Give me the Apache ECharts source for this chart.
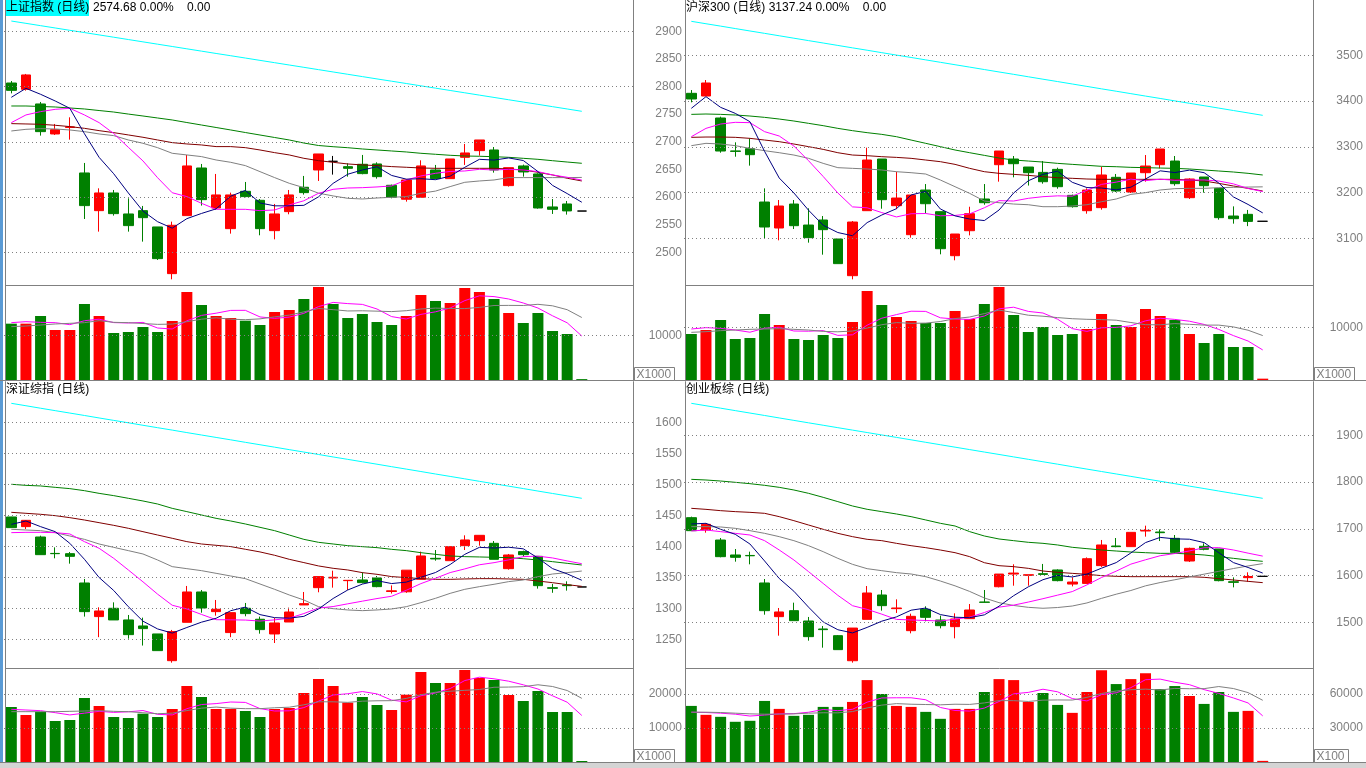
<!DOCTYPE html>
<html><head><meta charset="utf-8">
<script src="https://cdn.jsdelivr.net/npm/echarts@6/dist/echarts.min.js"></script>
<style>html,body{margin:0;padding:0;background:#fff;overflow:hidden}#c{width:1366px;height:768px}</style>
</head><body><div id="c"></div>
<script>
// ---------- DATA ----------
// 43 slots on each time axis, 40 trading days drawn
const days = Array.from({length: 43}, (_, i) => 'D' + (i + 1));

// 上证指数  [open, high, low, close]
const shCandles = [
[2806.4,2810.0,2787.7,2793.1],[2795.0,2822.8,2792.6,2821.0],[2768.5,2772.1,2711.2,2718.4],[2714.2,2732.3,2712.4,2722.0],
[2726.0,2744.3,2703.9,2727.0],[2643.6,2661.7,2560.3,2584.5],[2575.4,2615.8,2537.4,2607.4],[2607.4,2612.8,2566.4,2570.0],
[2569.4,2597.7,2537.4,2548.3],[2575.4,2583.9,2519.3,2562.7],[2545.9,2545.9,2486.1,2488.5],[2461.4,2555.5,2451.1,2548.9],
[2566.4,2676.2,2566.4,2656.3],[2652.6,2659.9,2584.5,2595.3],[2580.2,2641.8,2576.6,2603.8],[2542.8,2608.0,2533.8,2603.8],
[2610.4,2627.3,2599.6,2600.8],[2594.1,2596.5,2530.8,2542.8],[2539.2,2587.5,2523.5,2569.4],[2573.6,2612.8,2568.8,2603.8],
[2617.7,2638.2,2604.4,2608.0],[2649.0,2678.0,2629.1,2678.0],[2664.7,2674.4,2640.6,2664.7],[2655.0,2661.1,2636.9,2652.0],
[2659.3,2676.2,2641.2,2642.4],[2659.9,2662.9,2633.3,2636.9],[2621.3,2622.5,2597.7,2599.6],[2596.0,2632.7,2591.7,2630.9],
[2599.6,2666.5,2599.0,2656.3],[2649.0,2658.1,2632.1,2633.3],[2633.3,2668.9,2632.7,2668.9],[2671.9,2696.1,2658.1,2679.8],
[2684.0,2703.3,2675.0,2703.3],[2685.2,2690.6,2644.2,2649.0],[2620.7,2653.2,2618.9,2653.2],[2656.3,2658.7,2636.9,2645.4],
[2641.8,2643.0,2579.0,2580.2],[2582.1,2596.5,2569.4,2577.8],[2587.5,2592.9,2568.2,2574.9],[2574.68,2574.68,2574.68,2574.68]];
const shMA5 = [2780.5,2796.8,2786,2773.9,2760.6,2714.6,2671.9,2642.2,2607.4,2574.6,2555.4,2543.7,2560.9,2570.3,2578.6,2601.6,2612,2589.3,2584.1,2584.1,2585,2600.4,2624.8,2641.3,2649,2654.8,2639.1,2632.4,2633.2,2631.4,2637.8,2653.8,2668.3,2666.9,2670.8,2666.1,2646.2,2621.1,2606.3,2590.6];
const shMA10 = [2734.7,2748.6,2754.6,2758.8,2760.6,2748.6,2734.7,2715,2690,2665.4,2635,2607.8,2600.8,2588.7,2577.8,2577.8,2577.8,2575.4,2576.6,2585.7,2593.3,2606.8,2614,2616.4,2617,2618.3,2620.1,2630.9,2638.2,2643,2646.3,2647.2,2650.2,2649,2650.2,2649,2646,2640,2635.8,2630.7];
const shMA20 = [2719.6,2722.6,2723.8,2723.2,2721.4,2718.4,2714.2,2711.2,2703.3,2697.3,2689.4,2679.2,2676.2,2673.2,2667.1,2662.9,2656.9,2646,2635.2,2624.9,2617,2607,2602,2597.7,2596.5,2598.3,2599.6,2600.8,2606.8,2610.8,2618.9,2626.7,2629.1,2630.9,2635.2,2635.2,2635.2,2635.2,2635.2,2635.5];
const shMA30 = [2732.9,2732.3,2731.7,2729.9,2727.5,2724.4,2720.2,2716.6,2712.4,2708.2,2703.3,2698.5,2696.1,2694.3,2691.3,2691.3,2689.4,2685.2,2680.4,2676.2,2670.1,2665.9,2662.9,2659.9,2658.1,2656.9,2655.1,2653.9,2652.6,2652,2652,2652,2652,2652,2650.8,2649,2644.8,2640,2634,2629.1];
const shMA60 = [2764.8,2764.8,2763.9,2763,2761.2,2759.4,2756.6,2753.9,2750.2,2746.7,2743.1,2739.5,2734.9,2730.4,2725.9,2721.4,2716.8,2712.3,2707.8,2703.3,2697.8,2693.3,2691.1,2689.3,2687,2685.2,2683.4,2681.6,2679.2,2677.4,2675.6,2674.3,2673.8,2673,2671.9,2670.1,2668.3,2665.8,2663.4,2661.1];
const shMA120 = [2918.6,2914.4,2910.2,2906.0,2901.8,2897.7,2893.5,2889.3,2885.1,2880.9,2876.7,2872.5,2868.3,2864.1,2859.9,2855.8,2851.6,2847.4,2843.2,2839.0,2834.8,2830.6,2826.4,2822.2,2818.0,2813.8,2809.7,2805.5,2801.3,2797.1,2792.9,2788.7,2784.5,2780.3,2776.1,2771.9,2767.8,2763.6,2759.4,2755.2];
const shVol = [12603,12603,14318,11186,11186,17002,14318,10514,10738,11857,10738,13199,19686,16778,14318,13870,13273,12304,15212,15660,18121,20805,17002,13870,14765,12975,12304,14318,19015,17673,17226,20581,19686,18121,14989,12752,14989,10962,10291,200];
const shVolMA5 = [12826,13050,12901,12826,12379,13259,13602,12841,12752,12886,11633,11409,13244,14452,14944,15570,15585,14109,13795,14064,14914,16420,17360,17092,16913,15883,14183,13646,14675,15257,16107,17763,18836,18657,18121,17226,16107,14363,12797,9839];
const shVolMA10 = [11931,12080,12304,12528,12677,12826,13273,12901,12826,12633,12446,12506,13042,13602,13915,13602,13497,13676,14124,14504,15242,16003,15734,15444,15488,15399,15302,15503,15884,16085,15995,15973,16241,16666,16689,16667,16935,16599,15727,13980];
const shLabels = [2500,2550,2600,2650,2700,2750,2800,2850,2900];
const shGridVals = [2500,2600,2700,2800,2900];
const shVolLabels = [10000];

// 沪深300
const hsCandles = [
[3416.9,3424.1,3397.2,3404.5],[3411.0,3446.0,3411.0,3439.5],[3363.0,3365.9,3287.1,3290.8],[3291.0,3309.8,3278.4,3290.0],
[3295.9,3318.5,3258.8,3282.8],[3179.3,3209.2,3099.2,3124.7],[3122.5,3183.7,3095.6,3170.6],[3174.9,3183.7,3120.3,3127.6],
[3129.0,3165.5,3090.5,3101.4],[3140.0,3148.7,3064.2,3118.9],[3098.5,3098.5,3044.6,3044.6],[3018.3,3137.8,3010.3,3135.6],
[3160.4,3298.1,3160.4,3271.1],[3273.3,3273.3,3164.7,3184.4],[3171.3,3245.6,3164.0,3188.0],[3107.9,3194.6,3101.4,3194.6],
[3205.5,3218.6,3154.6,3175.6],[3158.2,3158.2,3065.0,3077.3],[3062.0,3109.4,3051.9,3109.4],[3116.6,3169.0,3106.4,3153.8],
[3185.9,3218.6,3173.4,3177.8],[3260.9,3290.8,3223.8,3290.8],[3273.3,3279.9,3233.3,3263.1],[3255.8,3255.8,3215.3,3243.4],
[3244.1,3268.9,3219.4,3223.7],[3250.7,3254.4,3208.4,3212.8],[3193.9,3195.4,3167.0,3169.2],[3160.4,3209.2,3153.8,3205.5],
[3167.0,3256.5,3162.6,3238.4],[3233.3,3240.6,3201.2,3203.4],[3201.2,3242.7,3199.0,3242.7],[3243.4,3282.0,3223.8,3258.0],
[3260.9,3295.2,3252.9,3295.2],[3268.9,3279.9,3215.0,3219.4],[3188.8,3231.1,3185.9,3229.6],[3234.0,3234.0,3199.8,3215.0],
[3209.2,3209.2,3140.7,3145.1],[3148.7,3169.8,3132.0,3142.9],[3152.4,3162.0,3126.6,3137.0],[3137.24,3137.24,3137.24,3137.24]];
const hsMA5 = [3384.1,3409.6,3386.2,3373.1,3354.9,3290,3231.8,3199.1,3161.4,3128.6,3112.6,3105.6,3134.3,3150.9,3164.7,3194.7,3202.7,3164,3149,3142.1,3138.8,3161.8,3199,3225.8,3239.8,3246.8,3222.4,3210.9,3209.9,3205.9,3211.8,3229.6,3247.5,3243.7,3249,3243.4,3220.9,3190.4,3174,3155.5];
const hsMA10 = [3322.1,3340.3,3349.8,3353.5,3352.8,3333.1,3323.6,3301.7,3269.6,3235.1,3199.1,3168.7,3166.7,3156.2,3146.7,3153.7,3154.2,3149.2,3150,3153.4,3166.8,3182.3,3181.5,3187.4,3191,3192.8,3192.1,3205,3217.9,3222.8,3229.3,3226,3229.2,3226.8,3227.4,3227.6,3225.2,3219,3208.9,3202.2];
const hsMA20 = [3302.5,3307.6,3306.1,3302.5,3296.6,3291.5,3287.1,3282,3274.8,3263.8,3254.4,3252.9,3251.5,3249.3,3245.6,3243.4,3240.5,3227.4,3212.8,3198.2,3181.5,3177.8,3174.9,3173.4,3169.1,3169.1,3170.6,3173.4,3180,3185.9,3196,3199.8,3205.6,3208.5,3209.2,3209.2,3210.7,3211.4,3212,3212.5];
const hsMA30 = [3320.7,3321.4,3321.4,3320.7,3318.5,3314.8,3311.2,3306.1,3300.3,3294.4,3287.1,3282,3280.6,3278.4,3276.9,3274.8,3271.1,3267.5,3261.6,3252.9,3245.6,3242,3239.8,3237.6,3234.7,3232.5,3231.1,3229.6,3228.9,3228.9,3228.9,3228.9,3228.9,3228.9,3227.4,3225.2,3220.1,3214.3,3209.2,3203.4];
const hsMA60 = [3370.9,3371.7,3370.9,3369.5,3367.3,3364.4,3360.7,3356.4,3351.3,3346.2,3340.3,3335.3,3330.9,3327.2,3322.1,3314.8,3307.6,3300.3,3293,3287.1,3281.3,3275.5,3271.1,3268.9,3266.7,3263.8,3261.6,3259.5,3257.3,3256.5,3255.1,3254.4,3253.6,3252.9,3251.5,3249.3,3247.1,3244.9,3242,3238.4];
const hsMA120 = [3574.3,3569.0,3563.8,3558.5,3553.2,3548.0,3542.7,3537.4,3532.1,3526.9,3521.6,3516.3,3511.1,3505.8,3500.5,3495.3,3490.0,3484.7,3479.4,3474.2,3468.9,3463.6,3458.4,3453.1,3447.8,3442.6,3437.3,3432.0,3426.7,3421.5,3416.2,3410.9,3405.7,3400.4,3395.1,3389.9,3384.6,3379.3,3374.1,3368.8];
const hsVol = [8795,9560,11471,7839,8030,12619,10515,7839,7648,8604,8030,11089,17016,14339,12045,11280,10898,10898,13192,11663,14530,17781,12427,9177,10133,8604,8795,9751,12619,10515,10133,13574,12236,11471,8795,7074,8795,6309,6309,255];
const hsVolMA5 = [9751,10006,9878,9560,9139,9904,10095,9368,9330,9445,8527,8642,10477,11816,12504,13154,13116,11892,11663,11586,12236,13613,13919,13116,12810,11624,9827,9292,9980,10057,10363,11318,11815,11586,11242,10630,9674,8489,7456,5748];
const hsVolMA10 = [9113,9241,9432,9560,9687,9751,9815,9687,9560,9292,9216,9368,9923,10573,10974,10841,10879,11185,11739,12045,12695,13364,12905,12389,12198,11930,11720,11605,11548,11433,10994,10573,10554,10783,10649,10496,10496,10152,9521,8495];
const hsLabels = [3100,3200,3300,3400,3500];
const hsGridVals = [3100,3200,3300,3400,3500];
const hsVolLabels = [10000];

// 深证综指
const szCandles = [
[1447.3,1447.5,1430.0,1430.1],[1431.7,1441.9,1427.9,1441.9],[1415.0,1417.1,1386.5,1386.5],[1388.5,1398.3,1380.6,1388.1],
[1388.1,1390.8,1372.0,1383.8],[1340.8,1347.3,1286.6,1294.6],[1286.6,1301.6,1253.4,1295.7],[1300.0,1309.6,1281.2,1281.2],
[1281.2,1289.2,1251.0,1257.5],[1271.5,1284.9,1239.9,1267.2],[1258.6,1258.6,1231.7,1231.7],[1215.5,1265.1,1212.3,1262.4],
[1277.4,1336.0,1277.4,1326.3],[1326.3,1329.5,1292.9,1300.5],[1294.6,1313.4,1288.1,1298.4],[1260.8,1293.0,1253.4,1293.0],
[1300.0,1308.6,1287.1,1291.4],[1282.3,1286.6,1259.1,1265.6],[1258.6,1284.4,1244.0,1276.3],[1277.9,1301.1,1277.9,1294.0],
[1305.4,1326.3,1305.4,1307.5],[1333.3,1351.1,1325.8,1351.1],[1348.9,1360.7,1333.3,1350.0],[1344.6,1345.1,1329.5,1345.1],
[1345.7,1358.0,1340.2,1341.4],[1348.9,1352.1,1333.9,1334.9],[1327.1,1336.9,1323.8,1328.2],[1326.6,1361.5,1325.0,1361.5],
[1346.7,1391.4,1346.7,1384.4],[1380.6,1394.0,1376.8,1379.6],[1376.8,1399.4,1376.8,1399.4],[1401.0,1417.7,1394.0,1410.2],
[1409.1,1417.7,1401.0,1417.7],[1404.8,1408.5,1379.0,1379.0],[1363.9,1387.6,1362.3,1386.0],[1391.4,1393.0,1383.3,1386.5],
[1383.8,1383.8,1331.7,1336.5],[1333.3,1339.3,1325.0,1332.2],[1337.6,1343.5,1328.5,1336.5],[1334.4,1334.4,1334.4,1334.4]];
const szMA5 = [1435.4,1440.8,1431.7,1423.6,1404.8,1379,1349.7,1328.7,1302.6,1279.2,1266.7,1260,1269,1277.6,1283.9,1296.1,1301.9,1289.8,1284.9,1284.1,1287,1298.9,1315.8,1329.5,1339,1344.5,1339.9,1342.2,1350.1,1357.7,1370.6,1387,1398.3,1397.2,1398.5,1395.9,1381.1,1364,1355.5,1345.2];
const szMA10 = [1422,1422.5,1422.5,1422,1419.9,1407.5,1396.8,1380.6,1361.8,1342.7,1322.8,1304.9,1298.9,1290.1,1281.6,1281.4,1281,1279.4,1281.3,1284,1291.5,1300.4,1302.8,1307.2,1311.5,1315.7,1319.4,1329,1339.8,1348.4,1357.6,1363.5,1370.2,1373.6,1378.1,1383.3,1384.1,1381.2,1376.4,1371.9];
const szMA20 = [1427.4,1426.3,1425.2,1422,1416.6,1411.2,1403.7,1398.3,1393,1387.6,1377.9,1367.2,1363.9,1360.7,1356.4,1352.1,1347.8,1339.2,1330.6,1321.5,1313.4,1302.6,1299.4,1297.3,1296.2,1297.3,1298.9,1302.6,1309.1,1316.1,1324.1,1330.6,1334.9,1338.7,1343,1345.7,1351,1355.3,1357.5,1360.1];
const szMA30 = [1454.8,1453.2,1451.6,1449.4,1446.2,1442.4,1438.1,1433.8,1429,1423.6,1418.2,1412.9,1407.5,1403.7,1401.6,1399.5,1395.2,1390.9,1385.5,1379,1373.7,1368.3,1364.5,1361.8,1357.5,1354.8,1351.1,1349.5,1347.8,1346.7,1346.7,1347.3,1347.8,1347.8,1347.3,1346.7,1344,1341.3,1338.1,1335.4];
const szMA60 = [1500,1498.3,1497.3,1495.1,1493,1489.7,1485.4,1481.7,1477.4,1473.1,1468.2,1461.2,1455.9,1450.5,1445.1,1440.8,1436,1430.6,1425.2,1418.2,1411.2,1406.4,1403.7,1401,1399.4,1397.8,1395.1,1393,1389.7,1387,1384.4,1383.3,1382.8,1382.2,1381.7,1380,1377.9,1375.2,1372.5,1369.8];
const szMA120 = [1630.6,1626.7,1622.7,1618.8,1614.9,1611.0,1607.0,1603.1,1599.2,1595.2,1591.3,1587.4,1583.4,1579.5,1575.6,1571.7,1567.7,1563.8,1559.9,1555.9,1552.0,1548.1,1544.1,1540.2,1536.3,1532.4,1528.4,1524.5,1520.6,1516.6,1512.7,1508.8,1504.8,1500.9,1497.0,1493.1,1489.1,1485.2,1481.3,1477.4];
const szVol = [16177,13824,14804,12059,12353,18824,16471,13235,12941,14216,13235,15588,22353,19118,15588,15588,15000,13235,15588,15882,20294,24412,22353,17451,19118,16765,15294,19804,26471,23235,23235,27059,24706,24118,19706,17941,20882,14706,14706,300];
const szVolMA5 = [15490,15294,15098,14510,13843,14373,14902,14588,14765,15137,14020,13843,15667,16902,17176,17647,17529,15706,15000,15059,16000,17882,19706,20078,20726,20020,18196,17686,19490,20314,21608,23961,24941,24471,23765,22706,21471,19471,17588,13687];
const szVolMA10 = [14804,14804,14804,14804,14902,15000,15098,14902,14804,14490,14196,14373,15128,15833,16157,15833,15686,15686,15951,16118,16823,17706,17706,17539,17892,18010,18039,18696,19784,20520,20814,21079,21314,21981,22039,22157,22716,22206,21029,18726];
const szLabels = [1250,1300,1350,1400,1450,1500,1550,1600];
const szGridVals = [1250,1300,1350,1400,1450,1500,1550,1600];
const szVolLabels = [10000,20000];

// 创业板综
const cyCandles = [
[1723.8,1726.0,1696.0,1696.0],[1697.4,1711.7,1691.7,1709.5],[1676.0,1680.3,1639.0,1640.4],[1644.0,1656.8,1629.7,1639.0],
[1643.0,1651.1,1624.0,1642.3],[1584.1,1592.6,1516.3,1524.9],[1512.1,1530.6,1471.4,1522.1],[1524.9,1542.0,1503.5,1503.5],
[1502.8,1511.4,1460.7,1469.3],[1485.7,1492.1,1445.7,1484.3],[1471.4,1472.8,1441.5,1441.5],[1417.8,1487.7,1413.7,1487.7],
[1506.3,1577.6,1506.3,1562.7],[1558.4,1569.1,1524.9,1535.6],[1529.2,1549.1,1520.0,1530.6],[1482.1,1518.5,1476.4,1512.8],
[1527.8,1534.2,1502.1,1510.6],[1504.9,1514.2,1487.0,1492.8],[1490.7,1519.2,1465.7,1507.1],[1507.8,1539.1,1507.8,1526.3],
[1543.4,1569.1,1542.0,1542.7],[1576.1,1603.2,1574.7,1603.2],[1603.2,1624.1,1578.3,1605.3],[1600.4,1601.8,1578.3,1601.8],
[1604.0,1624.8,1601.8,1602.5],[1611.9,1613.3,1587.6,1589.1],[1581.8,1596.1,1576.8,1586.1],[1583.2,1638.8,1583.2,1636.0],
[1621.2,1676.1,1618.4,1665.4],[1663.2,1680.3,1660.4,1661.8],[1661.8,1692.4,1661.8,1692.4],[1695.3,1706.7,1683.2,1696.7],
[1693.1,1698.7,1673.8,1691.7],[1679.6,1686.7,1648.3,1649.7],[1631.1,1659.6,1629.0,1658.2],[1662.5,1668.9,1654.0,1656.1],
[1656.8,1656.8,1587.6,1589.1],[1586.8,1596.1,1574.7,1585.4],[1595.5,1606.9,1587.0,1598.0],[1598.3,1598.3,1598.3,1598.3]];
const cyMA5 = [1710.3,1711.7,1698.9,1688.2,1667.5,1631.2,1593.7,1566.4,1532.4,1500.8,1484.1,1477.3,1489.1,1502.4,1511.6,1525.9,1530.5,1516.5,1510.8,1509.9,1515.9,1534.4,1556.9,1575.9,1591.1,1600.4,1597,1603.1,1615.8,1627.7,1648.3,1670.5,1681.6,1678.5,1677.7,1670.5,1648.9,1627.7,1617.3,1605.3];
const cyMA10 = [1695.3,1697.4,1693.9,1690.3,1686.7,1674.6,1654.7,1633.3,1608.4,1583.1,1557.7,1535.5,1527.7,1517.4,1506.2,1505,1503.9,1502.8,1506.6,1510.8,1520.9,1532.4,1536.7,1543.3,1550.5,1558.1,1565.7,1580,1595.8,1609.4,1624.4,1633.7,1642.4,1647.1,1652.7,1659.4,1659.7,1654.7,1647.9,1641.6];
const cyMA20 = [1704.6,1704.6,1703.9,1701,1696,1690.3,1683.2,1674.6,1663.9,1651.1,1636.8,1624,1614.7,1610.4,1606.2,1603.3,1597.6,1588.3,1578,1566,1552,1542,1536,1532,1530,1531.6,1534.8,1541.4,1551.2,1560.1,1568,1578,1585,1591,1597,1603,1609,1615,1620.5,1625.5];
const cyMA30 = [1743.8,1741.6,1738.8,1736.7,1735.2,1733.1,1726,1717.4,1708.1,1698.9,1690.3,1683.2,1677.5,1674.6,1668.9,1663.9,1659.6,1654.6,1648.9,1640.4,1627.5,1621.1,1619,1615.4,1609.7,1606.9,1604.7,1602.6,1599.8,1598.3,1597.6,1597.6,1597.6,1597.6,1597.6,1596.2,1593.4,1590.5,1587.6,1584.8];
const cyMA60 = [1805.8,1804.4,1802.2,1799.4,1796.5,1793,1788.7,1783,1775.9,1767.3,1758.1,1748.8,1741.7,1736.7,1731.7,1726,1718.9,1711.7,1706,1693.9,1684.6,1678.2,1674.6,1671.1,1668.9,1665.4,1660.4,1657.5,1654.7,1652.5,1650.4,1648.9,1647.5,1647.5,1646.1,1644,1640.4,1636.8,1633.3,1630.4];
const cyMA120 = [1968.4,1963.2,1958.0,1952.8,1947.6,1942.4,1937.1,1931.9,1926.7,1921.5,1916.3,1911.1,1905.9,1900.7,1895.5,1890.3,1885.0,1879.8,1874.6,1869.4,1864.2,1859.0,1853.8,1848.6,1843.4,1838.2,1832.9,1827.7,1822.5,1817.3,1812.1,1806.9,1801.7,1796.5,1791.3,1786.1,1780.8,1775.6,1770.4,1765.2];
const cyVol = [49494,41610,39858,35478,36354,53874,46866,40734,41610,48618,48618,52998,72270,60006,49494,48618,44238,38106,46866,46866,61758,73146,72270,52998,60882,50370,43362,61758,81030,68766,73146,78402,64386,67014,58254,51246,61758,44238,45114,1000];
const cyVolMA5 = [43946,43654,43070,42194,40559,41435,42486,42661,43888,46340,45289,46516,52823,56502,56677,56677,54925,48092,45464,44939,47567,53348,60181,61408,64211,61933,55976,53874,59480,61057,65612,72620,73146,70343,68240,63860,60532,56502,52122,40671];
const cyVolMA10 = [43946,43946,43654,43070,42486,42194,42194,42486,43070,43450,43362,44501,47742,50195,51509,50983,50720,50458,50983,50808,52122,54137,54137,53436,54575,54750,54662,57028,60444,62634,63773,64298,63510,64912,64649,64736,66576,64824,61232,54456];
const cyLabels = [1500,1600,1700,1800,1900];
const cyGridVals = [1500,1600,1700,1800,1900];
const cyVolLabels = [30000,60000];

// ---------- STYLE / LAYOUT ----------
const UP = '#FF0000', DOWN = '#008000', DOJI = '#000000';
const LINE_COLORS = ['#000080', '#FF00FF', '#808080', '#800000', '#008000', '#00FFFF'];
const VOL_LINE_COLORS = ['#FF00FF', '#808080'];
const FONT = '"Liberation Sans", "Noto Sans CJK SC", sans-serif';
const GRIDLINE = {color: '#808080', type: [1, 3], width: 1};

const panels = [
  {candles: shCandles, mas: [shMA5, shMA10, shMA20, shMA30, shMA60, shMA120], vol: shVol, volMas: [shVolMA5, shVolMA10],
   labels: shLabels, gridVals: shGridVals, volLabels: shVolLabels,
   left: 4, width: 629, top: 0, h: 285.7, vTop: 285.7, vH: 94.3, pMin: 2439.55, pMax: 2956.65, vMax: 21096},
  {candles: hsCandles, mas: [hsMA5, hsMA10, hsMA20, hsMA30, hsMA60, hsMA120], vol: hsVol, volMas: [hsVolMA5, hsVolMA10],
   labels: hsLabels, gridVals: hsGridVals, volLabels: hsVolLabels,
   left: 684, width: 630, top: 0, h: 285.7, vTop: 285.7, vH: 94.3, pMin: 2996.4, pMax: 3620.9, vMax: 18031},
  {candles: szCandles, mas: [szMA5, szMA10, szMA20, szMA30, szMA60, szMA120], vol: szVol, volMas: [szVolMA5, szVolMA10],
   labels: szLabels, gridVals: szGridVals, volLabels: szVolLabels,
   left: 4, width: 629, top: 382, h: 286.3, vTop: 668.3, vH: 93.7, pMin: 1203.2, pMax: 1665, vMax: 27559},
  {candles: cyCandles, mas: [cyMA5, cyMA10, cyMA20, cyMA30, cyMA60, cyMA120], vol: cyVol, volMas: [cyVolMA5, cyVolMA10],
   labels: cyLabels, gridVals: cyGridVals, volLabels: cyVolLabels,
   left: 684, width: 630, top: 382, h: 286.3, vTop: 668.3, vH: 93.7, pMin: 1401.6, pMax: 2014, vMax: 82676}
];

const grids = [], xAxes = [], yAxes = [], series = [];
function labelAxis(gi, min, max, labels) {
  return {type: 'value', gridIndex: gi, position: 'right', min: min, max: max,
    splitLine: {show: false}, axisLine: {show: false}, axisTick: {show: false},
    axisLabel: {customValues: labels, formatter: v => String(v), color: '#808080', fontSize: 12, fontFamily: FONT, align: 'right', margin: 49}};
}
panels.forEach((p, i) => {
  const g = i * 2;
  grids.push({left: p.left, top: p.top, width: p.width, height: p.h, outerBoundsMode: 'none', containLabel: false});
  grids.push({left: p.left, top: p.vTop, width: p.width, height: p.vH, outerBoundsMode: 'none', containLabel: false});
  xAxes.push({type: 'category', gridIndex: g, data: days, boundaryGap: true, show: false});
  xAxes.push({type: 'category', gridIndex: g + 1, data: days, boundaryGap: true, show: false});
  yAxes.push(labelAxis(g, p.pMin, p.pMax, p.labels));
  yAxes.push(labelAxis(g + 1, 0, p.vMax, p.volLabels));

  const cData = p.candles.map(([o, h, l, c]) => o === c
    ? {value: [o, c, l, h], itemStyle: {color: DOJI, color0: DOJI, borderColor: DOJI, borderColor0: DOJI}}
    : [o, c, l, h]);
  series.push({type: 'candlestick', xAxisIndex: g, yAxisIndex: g, data: cData, barWidth: 10, z: 2, silent: true,
    itemStyle: {color: UP, color0: DOWN, borderColor: UP, borderColor0: DOWN, borderWidth: 1},
    markLine: {silent: true, symbol: ['none', 'none'], label: {show: false}, lineStyle: GRIDLINE, animation: false,
      emphasis: {disabled: true}, data: p.gridVals.map(v => ({yAxis: v}))}});
  p.mas.forEach((arr, k) => series.push({type: 'line', xAxisIndex: g, yAxisIndex: g, data: arr, symbol: 'none',
    showSymbol: false, silent: true, z: 3 + (5 - k) * 0.01, lineStyle: {width: 1, color: LINE_COLORS[k]}, itemStyle: {color: LINE_COLORS[k]}}));

  const vData = p.vol.map((v, k) => {
    const [o, , , c] = p.candles[k];
    const prev = k > 0 ? p.candles[k - 1][3] : o;
    const up = c > o || (c === o && c >= prev);
    return {value: v, itemStyle: {color: up ? UP : DOWN}};
  });
  series.push({type: 'bar', xAxisIndex: g + 1, yAxisIndex: g + 1, data: vData, barWidth: 11, z: 2, silent: true,
    markLine: {silent: true, symbol: ['none', 'none'], label: {show: false}, lineStyle: GRIDLINE, animation: false,
      emphasis: {disabled: true}, data: p.volLabels.map(v => ({yAxis: v}))}});
  p.volMas.forEach((arr, k) => series.push({type: 'line', xAxisIndex: g + 1, yAxisIndex: g + 1, data: arr, symbol: 'none',
    showSymbol: false, silent: true, z: 3, lineStyle: {width: 1, color: VOL_LINE_COLORS[k]}, itemStyle: {color: VOL_LINE_COLORS[k]}}));
});

function hline(x1, x2, y) { return {type: 'line', silent: true, z: 10, shape: {x1: x1, y1: y, x2: x2, y2: y}, style: {stroke: '#808080', lineWidth: 1}}; }
function vline(x, y1, y2) { return {type: 'line', silent: true, z: 10, shape: {x1: x, y1: y1, x2: x, y2: y2}, style: {stroke: '#808080', lineWidth: 1}}; }
function txt(x, y, s, color) { return {type: 'text', silent: true, z: 12, x: x, y: y, style: {text: s, fill: color || '#000', font: '12px ' + FONT, verticalAlign: 'middle'}}; }
function unitBox(x, y, w, s) {
  return [{type: 'rect', silent: true, z: 11, shape: {x: x, y: y, width: w, height: 13}, style: {fill: '#fff', stroke: '#808080', lineWidth: 1}},
          {type: 'text', silent: true, z: 12, x: x + 2, y: y + 7, style: {text: s, fill: '#808080', font: '12px ' + FONT, verticalAlign: 'middle'}}];
}

const graphic = [
  {type: 'rect', silent: true, z: 10, shape: {x: 0, y: 0, width: 3, height: 768}, style: {fill: '#5B9BD5'}},
  {type: 'rect', silent: true, z: 10, shape: {x: 0, y: 763, width: 1366, height: 5}, style: {fill: '#D4D4D4'}},
  vline(5.5, 0, 763), vline(633.5, 0, 763), vline(685.5, 0, 763), vline(1313.5, 0, 763),
  hline(5, 633.5, 285.5), hline(685.5, 1313.5, 285.5),
  hline(0, 1366, 380.5),
  hline(5, 633.5, 668.5), hline(685.5, 1313.5, 668.5),
  hline(0, 1366, 762.5),
  {type: 'rect', silent: true, z: 11, shape: {x: 6, y: 0, width: 83, height: 16}, style: {fill: '#00FFFF'}},
  txt(6, 8, '上证指数 (日线)'),
  txt(93, 8, '2574.68 0.00%    0.00'),
  txt(686, 8, '沪深300 (日线) 3137.24 0.00%    0.00'),
  txt(6, 390, '深证综指 (日线)'),
  txt(686, 390, '创业板综 (日线)'),
  ...unitBox(634.5, 367.5, 40, 'X1000'),
  ...unitBox(1314.5, 367.5, 40, 'X1000'),
  ...unitBox(634.5, 749.5, 40, 'X1000'),
  ...unitBox(1314.5, 749.5, 34, 'X100')
];

const chart = echarts.init(document.getElementById('c'), null, {renderer: 'canvas', width: 1366, height: 768});
chart.setOption({
  animation: false,
  backgroundColor: '#ffffff',
  grid: grids, xAxis: xAxes, yAxis: yAxes, series: series, graphic: graphic
});
</script></body></html>
